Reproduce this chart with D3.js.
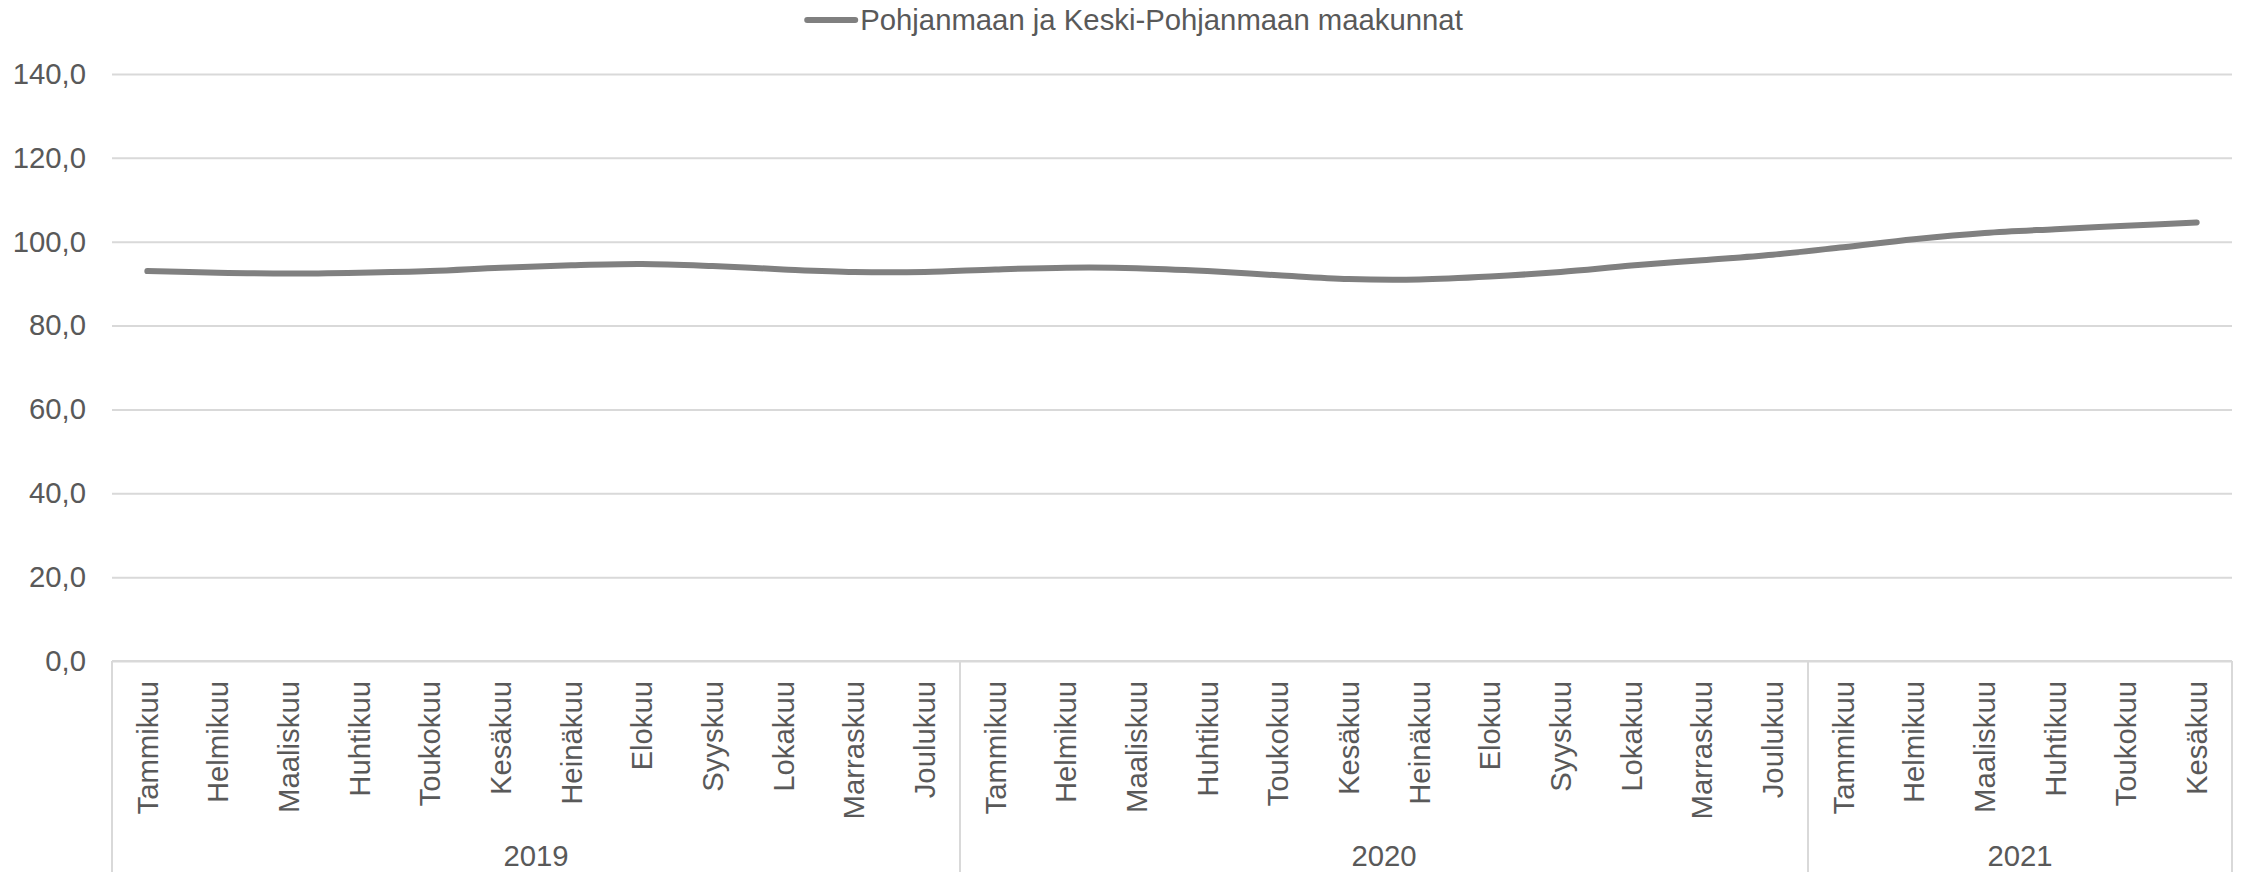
<!DOCTYPE html>
<html>
<head>
<meta charset="utf-8">
<script src="https://cdn.jsdelivr.net/npm/d3@7"></script>
<style>
  html, body { margin: 0; padding: 0; background: #fff; }
  svg { display: block; }
  text { font-family: "Liberation Sans", Arial, sans-serif; fill: #595959; }
</style>
</head>
<body>
<svg id="chart" width="2244" height="872"></svg>
<script>
const seriesName = "Pohjanmaan ja Keski-Pohjanmaan maakunnat";
const years = ["2019", "2020", "2021"];
const months2019 = ["Tammikuu","Helmikuu","Maaliskuu","Huhtikuu","Toukokuu","Kesäkuu","Heinäkuu","Elokuu","Syyskuu","Lokakuu","Marraskuu","Joulukuu"];
const months2020 = ["Tammikuu","Helmikuu","Maaliskuu","Huhtikuu","Toukokuu","Kesäkuu","Heinäkuu","Elokuu","Syyskuu","Lokakuu","Marraskuu","Joulukuu"];
const months2021 = ["Tammikuu","Helmikuu","Maaliskuu","Huhtikuu","Toukokuu","Kesäkuu"];
const values2019 = [93.0, 92.6, 92.4, 92.6, 93.0, 93.8, 94.4, 94.7, 94.2, 93.4, 92.8, 92.8];
const values2020 = [93.4, 93.8, 93.7, 93.0, 92.0, 91.1, 91.0, 91.7, 92.8, 94.3, 95.6, 96.9];
const values2021 = [98.7, 100.6, 102.1, 103.0, 103.8, 104.6];
const yTicks = [0, 20, 40, 60, 80, 100, 120, 140];

(function () {
const groups = [
  { year: years[0], months: months2019, values: values2019 },
  { year: years[1], months: months2020, values: values2020 },
  { year: years[2], months: months2021, values: values2021 }
];
const data = [];
groups.forEach(g => g.months.forEach((m, i) => data.push({ key: g.year + "-" + i, month: m, year: g.year, value: g.values[i] })));

const svg = d3.select("#chart");
const mLeft = 112, mRight = 2232, mTop = 74, mBottom = 661, H = 872;
const gridColor = "#d9d9d9";
const fs = 29.3;

const x = d3.scaleBand().domain(data.map(d => d.key)).range([mLeft, mRight]).paddingInner(0).paddingOuter(0);
const y = d3.scaleLinear().domain([0, 140]).range([mBottom, mTop]);

// gridlines + y axis labels
const yAxis = d3.axisLeft(y).tickValues(yTicks).tickSize(-(mRight - mLeft)).tickPadding(26)
  .tickFormat(d => d3.format(".1f")(d).replace(".", ","));
const gy = svg.append("g").attr("transform", `translate(${mLeft},0)`).call(yAxis);
gy.select(".domain").remove();
gy.selectAll(".tick line").attr("stroke", gridColor).attr("stroke-width", 2);
gy.selectAll(".tick text").attr("font-size", fs).attr("fill", "#595959")
  .style("font-family", '"Liberation Sans", Arial, sans-serif');

// category axis baseline
svg.append("line").attr("x1", mLeft).attr("x2", mRight).attr("y1", y(0)).attr("y2", y(0))
  .attr("stroke", gridColor).attr("stroke-width", 2);

// group separators
let idx = 0;
const bounds = [x(data[0].key)];
groups.forEach(g => { idx += g.months.length; bounds.push(idx < data.length ? x(data[idx].key) : mRight); });
svg.selectAll(".sep").data(bounds).enter().append("line")
  .attr("x1", d => d).attr("x2", d => d).attr("y1", y(0)).attr("y2", H)
  .attr("stroke", gridColor).attr("stroke-width", 2);

// month labels
svg.selectAll(".month").data(data).enter().append("text")
  .attr("transform", d => `translate(${x(d.key) + x.bandwidth() / 2},${y(0) + 20}) rotate(-90)`)
  .attr("text-anchor", "end").attr("dy", "0.35em").attr("font-size", fs)
  .text(d => d.month);

// year labels
svg.selectAll(".year").data(groups).enter().append("text")
  .attr("x", (d, i) => (bounds[i] + bounds[i + 1]) / 2).attr("y", 866)
  .attr("text-anchor", "middle").attr("font-size", fs)
  .text(d => d.year);

// line
const line = d3.line().x(d => x(d.key) + x.bandwidth() / 2).y(d => y(d.value)).curve(d3.curveCatmullRom.alpha(0.5));
svg.append("path").datum(data).attr("d", line).attr("fill", "none")
  .attr("stroke", "#808080").attr("stroke-width", 6).attr("stroke-linecap", "round").attr("stroke-linejoin", "round");

// legend
const lg = svg.append("g");
const lt = lg.append("text").attr("x", 53).attr("y", 30).attr("font-size", fs).text(seriesName);
lg.append("line").attr("x1", 0).attr("x2", 48).attr("y1", 20).attr("y2", 20)
  .attr("stroke", "#808080").attr("stroke-width", 6).attr("stroke-linecap", "round");
const tw = lt.node().getComputedTextLength();
const total = 53 + tw;
lg.attr("transform", `translate(${1135 - total / 2},0)`);
})();
</script>
</body>
</html>
